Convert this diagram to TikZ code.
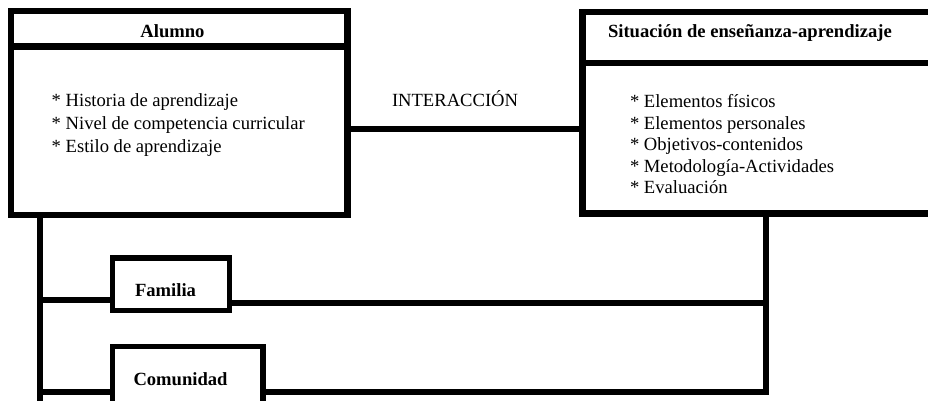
\documentclass[tikz,border=0pt]{standalone}
\usepackage{fontspec}
\setmainfont{Liberation Serif}
\begin{document}
\begin{tikzpicture}[x=1pt,y=-1pt,
  bigbox/.style={draw,line width=6.5pt,inner sep=0pt,outer sep=0pt},
  smallbox/.style={draw,line width=5.5pt,inner sep=0pt,outer sep=0pt},
  conn/.style={line width=6pt},
  txt/.style={inner sep=0pt,outer sep=0pt,anchor=base west,font=\fontsize{18.6pt}{22pt}\selectfont},
  btxt/.style={txt,font=\fontsize{18.6pt}{22pt}\selectfont\bfseries}]
\useasboundingbox (0,0) rectangle (928,401);
\clip (0,0) rectangle (928,401);
% boxes
\node[bigbox,minimum width=336.5pt,minimum height=204pt] (alumno) at (179.25,113) {};
\node[bigbox,minimum width=367.5pt,minimum height=201.5pt] (situacion) at (766.25,112.75) {};
\node[smallbox,minimum width=117pt,minimum height=52.5pt] (familia) at (171,284.25) {};
\node[smallbox,minimum width=150.5pt,minimum height=93.5pt] (comunidad) at (187.75,393.25) {};
% helper coordinates
\coordinate (ah) at (0,46.5);
\coordinate (sh) at (0,63);
\coordinate (inter) at (0,129);
\coordinate (lb) at (40,410);
\coordinate (famL) at (0,299.5);
\coordinate (famR) at (0,303);
\coordinate (comY) at (0,392);
% header separators
\draw[line width=6.5pt] (alumno.west |- ah) -- (alumno.east |- ah);
\draw[line width=6.5pt] (situacion.west |- sh) -- (situacion.east |- sh);
% connectors
\draw[conn] (alumno.east |- inter) -- (situacion.west |- inter);
\draw[conn] (alumno.south -| lb) -- (lb);
\draw[conn] (lb |- famL) -- (familia.west |- famL);
\draw[conn] (lb |- comY) -- (comunidad.west |- comY);
\draw[conn] (familia.east |- famR) -- (situacion.south |- famR);
\draw[conn] (comunidad.east |- comY) -| (situacion.south);
% texts
\node[btxt,anchor=base] (talumno) at (172.5,37.5) {Alumno};
\node[btxt] (tsit) at (608,37.5) {Situación de enseñanza-aprendizaje};
\node[txt] (a1) at (51.7,106.5) {* Historia de aprendizaje};
\node[txt] (a2) at (51.7,129.5) {* Nivel de competencia curricular};
\node[txt] (a3) at (51.7,152.5) {* Estilo de aprendizaje};
\node[txt] (s1) at (630,107.3) {* Elementos físicos};
\node[txt] (s2) at (630,129) {* Elementos personales};
\node[txt] (s3) at (630,150.7) {* Objetivos-contenidos};
\node[txt] (s4) at (630,172.2) {* Metodología-Actividades};
\node[txt] (s5) at (630,193.7) {* Evaluación};
\node[txt] (tinter) at (392,106.5) {INTERACCIÓN};
\node[btxt] (tfam) at (135,296.5) {Familia};
\node[btxt] (tcom) at (133.5,385) {Comunidad};
\end{tikzpicture}
\end{document}
